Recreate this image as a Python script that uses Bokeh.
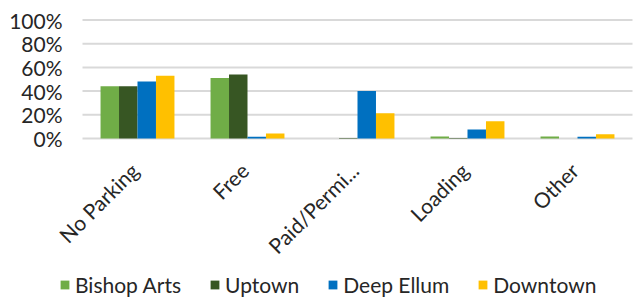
import math
from bokeh.plotting import figure
from bokeh.models import (Range1d, ColumnDataSource, Legend, LegendItem, LabelSet)
from bokeh.core.properties import value
from bokeh.transform import dodge
from bokeh.embed import file_html
from bokeh.resources import INLINE

categories = ["No Parking", "Free", "Paid/Permi...", "Loading", "Other"]
series = ["Bishop Arts", "Uptown", "Deep Ellum", "Downtown"]
bishop_arts = [0.44, 0.51, 0.0, 0.017, 0.017]
uptown = [0.44, 0.54, 0.005, 0.005, 0.0]
deep_ellum = [0.48, 0.015, 0.40, 0.076, 0.015]
downtown = [0.53, 0.042, 0.213, 0.146, 0.036]
colors = ["#70AD47", "#375623", "#0070C0", "#FFC000"]
y_ticks = [0, 0.2, 0.4, 0.6, 0.8, 1.0]
y_tick_labels = ["0%", "20%", "40%", "60%", "80%", "100%"]

FONT = "Lato"
TXT = "#262626"
W, H = 633, 297
PLOT_L, PLOT_R, PLOT_T, PLOT_B = 82, 632, 19.5, 138   # plot area in pixels
n = len(categories)
cat_px = (PLOT_R - PLOT_L) / n
unit_px = PLOT_B - PLOT_T

p = figure(width=W, height=H,
           x_range=Range1d(-PLOT_L / cat_px, n + (W - PLOT_R) / cat_px),
           y_range=Range1d(-(H - PLOT_B) / unit_px, 1 + PLOT_T / unit_px),
           output_backend="svg", toolbar_location=None,
           x_axis_location=None, y_axis_location=None,
           min_border_left=0, min_border_right=0, min_border_top=0, min_border_bottom=0)
p.outline_line_color = None
p.xgrid.visible = False
p.ygrid.visible = False

# horizontal gridlines at the y ticks, spanning the category area
grid_src = ColumnDataSource(dict(y=y_ticks, x0=[0] * len(y_ticks), x1=[n] * len(y_ticks)))
p.segment(x0="x0", x1="x1", y0="y", y1="y", source=grid_src, line_color="#D9D9D9", line_width=2)

src = ColumnDataSource(dict(cat=categories, xc=[i + 0.5 for i in range(n)],
                            b=bishop_arts, u=uptown, d=deep_ellum, t=downtown,
                            zero=[0] * n))

w = 0.168
offs = [-1.5 * w, -0.5 * w, 0.5 * w, 1.5 * w]
renderers = []
for col, off, c in zip(["b", "u", "d", "t"], offs, colors):
    r = p.vbar(x=dodge("xc", off), top=col, width=w, source=src,
               fill_color=c, line_color=None)
    renderers.append(r)

# y tick labels
ytl_src = ColumnDataSource(dict(y=y_ticks, x=[0] * len(y_ticks), text=y_tick_labels))
p.add_layout(LabelSet(x="x", y="y", text="text", source=ytl_src, x_offset=-20,
                      text_align="right", text_baseline="middle",
                      text_font=value(FONT), text_font_size=value("21px"), text_color=value(TXT)))

# category labels, rotated 45 degrees
p.add_layout(LabelSet(x="xc", y="zero", text="cat", source=src, x_offset=-3, y_offset=-28,
                      angle=math.pi / 4, text_align="right", text_baseline="middle",
                      text_font=value(FONT), text_font_size=value("21px"), text_color=value(TXT)))

items = [LegendItem(label=s, renderers=[r]) for s, r in zip(series, renderers)]
legend = Legend(items=items, orientation="horizontal", location=(59, 0),
                glyph_width=11, glyph_height=11, label_standoff=5, spacing=28,
                padding=0, margin=0, border_line_color=None, background_fill_alpha=0,
                label_text_font=FONT, label_text_font_size="21px", label_text_color=TXT,
                label_height=20)
p.add_layout(legend, "center")

open("out.html", "w").write(file_html(p, INLINE))
